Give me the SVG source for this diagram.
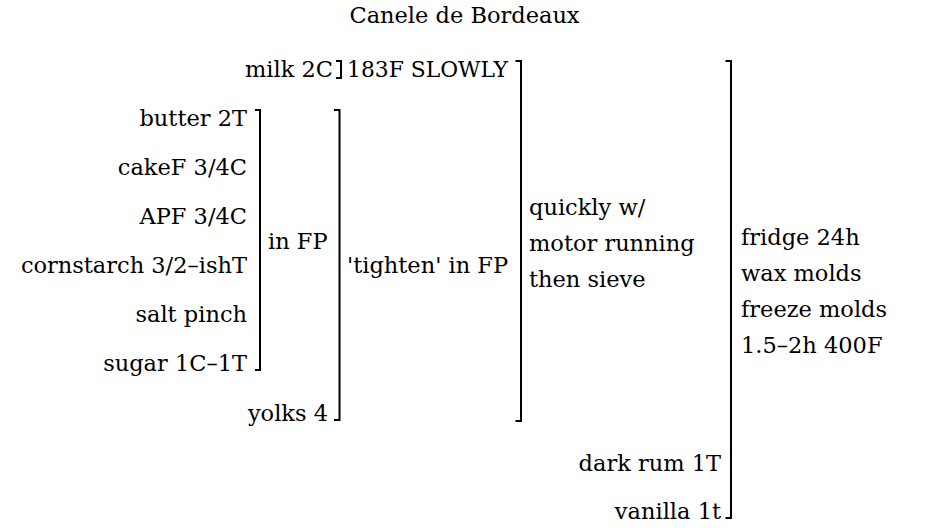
<svg xmlns="http://www.w3.org/2000/svg" width="932" height="528" viewBox="0 0 932 528">
<style>
text{font-family:"DejaVu Serif","Liberation Serif",serif;font-size:22.5px;fill:#000}
.r{text-anchor:end}
.m{text-anchor:middle}
.b{fill:none;stroke:#000;stroke-width:2}
</style>
<rect width="932" height="528" fill="#fff"/>
<text class="m" x="464.5" y="23">Canele de Bordeaux</text>
<g id="milk"><text class="r" x="333" y="77">milk 2C</text></g>
<g id="heat"><text x="347" y="77" textLength="161" lengthAdjust="spacingAndGlyphs">183F SLOWLY</text></g>
<g id="butter"><text class="r" x="247" y="126">butter 2T</text></g>
<g id="cakeF"><text class="r" x="247" y="175">cakeF 3/4C</text></g>
<g id="apf"><text class="r" x="247" y="224">APF 3/4C</text></g>
<g id="cornstarch"><text class="r" x="247" y="273">cornstarch 3/2–ishT</text></g>
<g id="salt"><text class="r" x="247" y="322">salt pinch</text></g>
<g id="sugar"><text class="r" x="247" y="371">sugar 1C–1T</text></g>
<g id="yolks"><text class="r" x="328" y="421">yolks 4</text></g>
<g id="inFP"><text x="268" y="249">in FP</text></g>
<g id="tighten"><text x="347" y="273">'tighten' in FP</text></g>
<g id="quickly"><text x="529" y="215">quickly w/</text><text x="529" y="251">motor running</text><text x="529" y="287">then sieve</text></g>
<g id="fridge"><text x="741" y="245">fridge 24h</text><text x="741" y="281">wax molds</text><text x="741" y="317">freeze molds</text><text x="741" y="353">1.5–2h 400F</text></g>
<g id="rum"><text class="r" x="721" y="471">dark rum 1T</text></g>
<g id="vanilla"><text class="r" x="721" y="519">vanilla 1t</text></g>
<g id="connectors">
<path class="b" d="M336 61H341V78H336"/>
<path class="b" d="M255 110H260V370H255"/>
<path class="b" d="M334 110H339.5V420H334"/>
<path class="b" d="M515.5 61H521V421H515.5"/>
<path class="b" d="M725.5 61H731V518H725.5"/>
</g>
</svg>
